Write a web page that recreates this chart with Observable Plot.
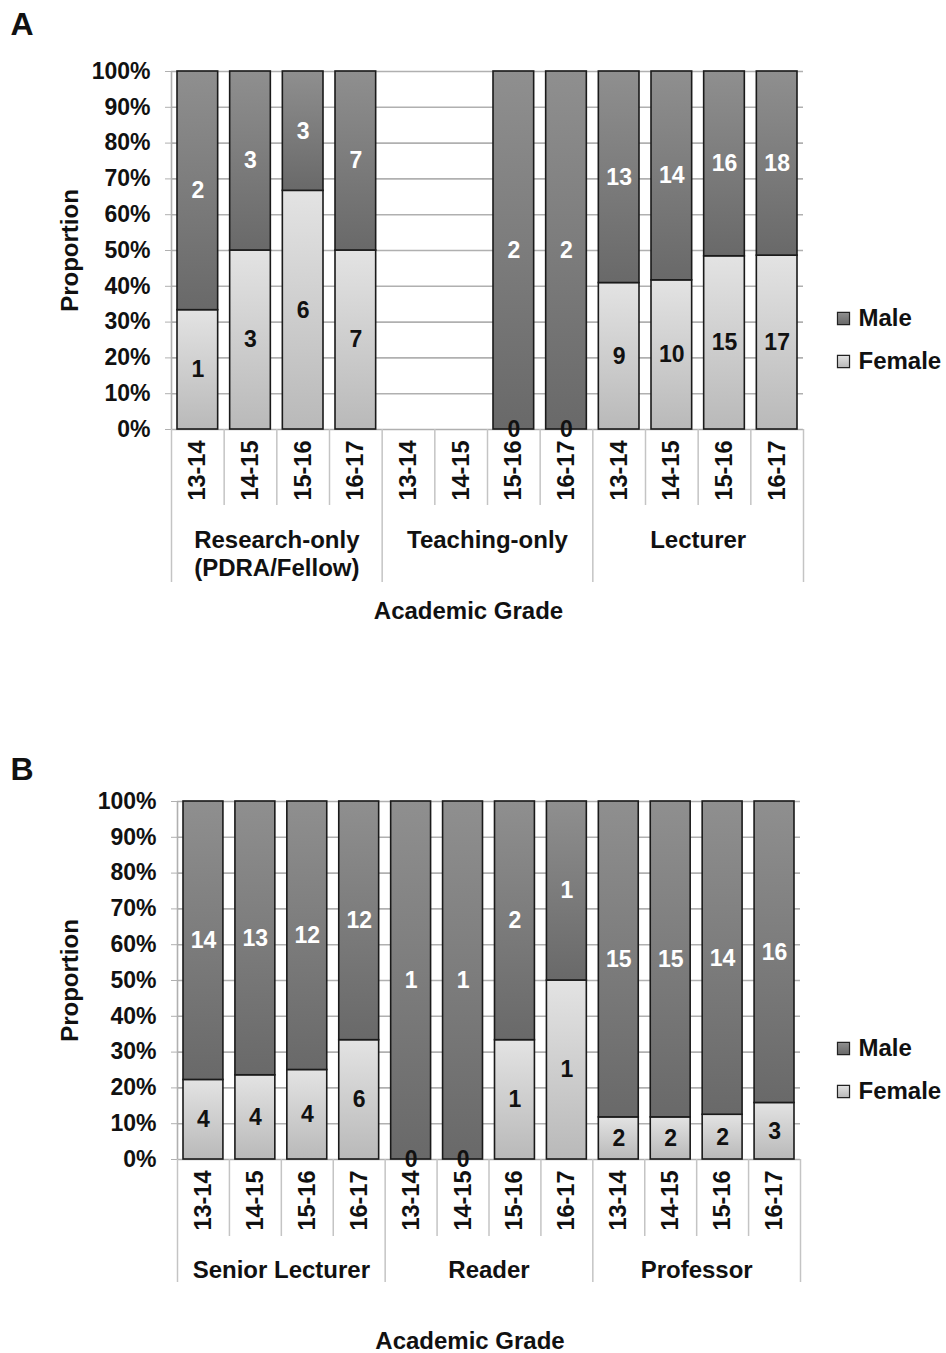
<!DOCTYPE html>
<html><head><meta charset="utf-8">
<script src="https://cdn.jsdelivr.net/npm/d3@7"></script>
<script src="https://cdn.jsdelivr.net/npm/@observablehq/plot@0.6"></script>
<style>
body{margin:0;background:#fff;font-family:"Liberation Sans",Arial,sans-serif;}
#wrap{width:946px;}
#wrap svg{display:block;}
</style></head><body><div id="wrap"></div>
<script>
// ---- data ----
const years = ["13-14", "14-15", "15-16", "16-17"];
const groupsA = ["Research-only\n(PDRA/Fellow)", "Teaching-only", "Lecturer"];
const femaleA = [1, 3, 6, 7, null, null, 0, 0, 9, 10, 15, 17];
const maleA = [2, 3, 3, 7, null, null, 2, 2, 13, 14, 16, 18];
const groupsB = ["Senior Lecturer", "Reader", "Professor"];
const femaleB = [4, 4, 4, 6, 0, 0, 1, 1, 2, 2, 2, 3];
const maleB = [14, 13, 12, 12, 1, 1, 2, 1, 15, 15, 14, 16];
const yTicks = [0, 0.1, 0.2, 0.3, 0.4, 0.5, 0.6, 0.7, 0.8, 0.9, 1];
const seriesNames = ["Male", "Female"];
const xTitle = "Academic Grade";
const yTitle = "Proportion";

const FONT = "'Liberation Sans', Arial, sans-serif";

function makePanel(cfg) {
  const {letter, groups, female, male, height, marginTop, marginBottom, marginLeft, marginRight,
         id, shortSep, longSep, letterDx, letterDy, legendDx} = cfg;
  const rows = female.map((f, i) => {
    const m = male[i];
    const ok = f != null && m != null;
    return {i, year: years[i % 4], f, m, fp: ok ? f / (f + m) : null};
  });
  const valid = rows.filter(d => d.fp != null);
  const plotH = height - marginTop - marginBottom;
  const off = px => -px / plotH;
  const gM = `url(#${id}M)`, gF = `url(#${id}F)`;
  const sep = d3.range(13);

  const marks = [
    Plot.ruleY(yTicks, {x1: 0, x2: 12, stroke: "#b0b0b0", strokeWidth: 1.6}),
    Plot.ruleX([0], {y1: 0, y2: 1, stroke: "#b0b0b0", strokeWidth: 1.6}),
    Plot.axisY({ticks: yTicks, tickFormat: d => Math.round(d * 100) + "%", tickSize: 6, tickPadding: 15,
      stroke: "#b0b0b0", fill: "#111", fontSize: 23, fontWeight: "bold"}),
    Plot.ruleX(sep, {x: d => d, y1: 0, y2: d => off(d % 4 === 0 ? longSep : shortSep), stroke: "#c4c4c4", strokeWidth: 1.5}),
    Plot.rectY(valid, {x1: d => d.i, x2: d => d.i + 1, y1: 0, y2: d => d.fp, fill: gF, stroke: "#1a1a1a", strokeWidth: 1.6, insetLeft: 6, insetRight: 6}),
    Plot.rectY(valid, {x1: d => d.i, x2: d => d.i + 1, y1: d => d.fp, y2: 1, fill: gM, stroke: "#1a1a1a", strokeWidth: 1.6, insetLeft: 6, insetRight: 6}),
    Plot.text(valid, {x: d => d.i + 0.5, y: d => d.fp / 2, text: d => String(d.f), fill: "#111", fontSize: 23, fontWeight: "bold"}),
    Plot.text(valid, {x: d => d.i + 0.5, y: d => (1 + d.fp) / 2, text: d => String(d.m), fill: "#fff", fontSize: 23, fontWeight: "bold"}),
    Plot.text(rows, {x: d => d.i + 0.5, y: 0, text: "year", rotate: -90, textAnchor: "end", dy: 11, fill: "#111", fontSize: 23.5, fontWeight: "bold"}),
    Plot.text(groups, {x: (d, i) => i * 4 + 2, y: 0, text: d => d, dy: 99, lineAnchor: "top", lineHeight: 1.16, fill: "#111", fontSize: 24, fontWeight: "bold"}),
    Plot.text([xTitle], {x: 6, y: 0, text: d => d, dx: -19, dy: 182, fill: "#111", fontSize: 24, fontWeight: "bold"}),
    Plot.text([yTitle], {frameAnchor: "left", text: d => d, rotate: -90, textAnchor: "middle", lineAnchor: "middle", dx: 70 - marginLeft, fill: "#111", fontSize: 24, fontWeight: "bold"}),
    Plot.text([letter], {frameAnchor: "top-left", text: d => d, dx: letterDx, dy: letterDy, textAnchor: "start", lineAnchor: "top", fill: "#111", fontSize: 32, fontWeight: "bold"})
  ];
  // legend
  const legendY = [247, 290];
  seriesNames.forEach((name, k) => {
    marks.push(Plot.dot([name], {frameAnchor: "top-right", dx: legendDx, dy: legendY[k], symbol: "square", r: 6.8,
      fill: k === 0 ? gM : gF, stroke: "#222", strokeWidth: 1.2}));
    marks.push(Plot.text([name], {frameAnchor: "top-right", text: d => d, dx: legendDx + 15, dy: legendY[k], textAnchor: "start", lineAnchor: "middle",
      fill: "#111", fontSize: 24, fontWeight: "bold"}));
  });

  const svg = Plot.plot({
    width: 946, height, marginTop, marginBottom, marginLeft, marginRight,
    x: {type: "linear", domain: [0, 12], axis: null},
    y: {domain: [0, 1]},
    style: {fontFamily: FONT, background: "#fff", color: "#111", overflow: "visible"},
    marks
  });
  const defs = d3.select(svg).insert("defs", ":first-child");
  const grad = (gid, c1, c2) => {
    const g = defs.append("linearGradient").attr("id", gid).attr("x1", 0).attr("y1", 0).attr("x2", 0).attr("y2", 1);
    g.append("stop").attr("offset", "0%").attr("stop-color", c1);
    g.append("stop").attr("offset", "100%").attr("stop-color", c2);
  };
  grad(id + "M", "#8f8f8f", "#696969");
  grad(id + "F", "#e3e3e3", "#b9b9b9");
  return svg;
}

const wrap = document.getElementById("wrap");
wrap.appendChild(makePanel({
  letter: "A", groups: groupsA, female: femaleA, male: maleA, id: "pa",
  height: 676, marginTop: 71, marginBottom: 247, marginLeft: 171, marginRight: 143,
  shortSep: 76, longSep: 153, letterDx: 10 - 171, letterDy: 12 - 71, legendDx: 40
}));
wrap.appendChild(makePanel({
  letter: "B", groups: groupsB, female: femaleB, male: maleB, id: "pb",
  height: 677, marginTop: 125, marginBottom: 194, marginLeft: 177, marginRight: 146,
  shortSep: 77, longSep: 123, letterDx: 10 - 177, letterDy: 757 - 801, legendDx: 43
}));
</script>
</body></html>
